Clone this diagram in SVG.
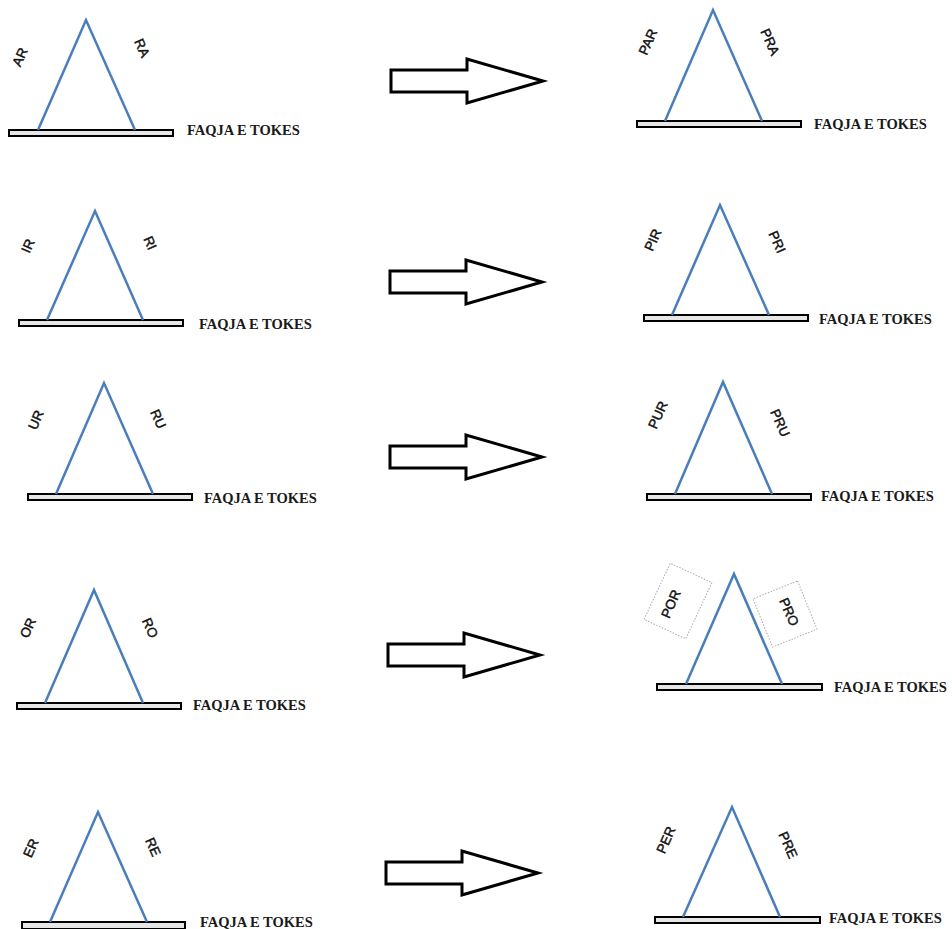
<svg xmlns="http://www.w3.org/2000/svg" width="952" height="929" viewBox="0 0 952 929">
<style>
.tri{fill:none;stroke:#4a7ebb;stroke-width:2.5;stroke-linejoin:miter}
.bar{fill:#e6e6e6;stroke:#000;stroke-width:2}
.lbl{font-family:"Liberation Sans",Arial,sans-serif;font-size:13.5px;fill:#111;stroke:#111;stroke-width:0.45;text-anchor:middle;dominant-baseline:central}
.fq{font-family:"Liberation Serif","Times New Roman",serif;font-weight:bold;font-size:14.5px;fill:#1a1a1a}
.arr{fill:#fff;stroke:#000;stroke-width:3;stroke-linejoin:miter}
.box{fill:none;stroke:#aaa;stroke-width:1;stroke-dasharray:1.5 1.5}
</style>
<defs>
<path id="arrow" d="M0,-11 H76 V-22 L152,0 L76,22 V11 H0 Z"/>
</defs>
<rect width="952" height="929" fill="#fff"/>

<g id="left-1">
<rect class="bar" x="9" y="130" width="164" height="6"/>
<polyline class="tri" points="38,130 86,20 135,130"/>
<text class="lbl" transform="translate(20,57) rotate(-66)">AR</text>
<text class="lbl" transform="translate(142,48) rotate(66)">RA</text>
<text class="fq" x="187" y="135">FAQJA E TOKES</text>
</g>
<g id="right-1">
<rect class="bar" x="637" y="121" width="164" height="6"/>
<polyline class="tri" points="665,121 713,10 762,121"/>
<text class="lbl" transform="translate(648,42) rotate(-66)">PAR</text>
<text class="lbl" transform="translate(770,42) rotate(66)">PRA</text>
<text class="fq" x="814" y="129">FAQJA E TOKES</text>
</g>

<g id="left-2">
<rect class="bar" x="19" y="320" width="164" height="6"/>
<polyline class="tri" points="47,320 95,211 143,320"/>
<text class="lbl" transform="translate(28,246) rotate(-66)">IR</text>
<text class="lbl" transform="translate(150,243) rotate(66)">RI</text>
<text class="fq" x="199" y="329">FAQJA E TOKES</text>
</g>
<g id="right-2">
<rect class="bar" x="644" y="315" width="164" height="6"/>
<polyline class="tri" points="672,315 720,205 769,315"/>
<text class="lbl" transform="translate(653,240) rotate(-66)">PIR</text>
<text class="lbl" transform="translate(777,242) rotate(66)">PRI</text>
<text class="fq" x="819" y="324">FAQJA E TOKES</text>
</g>

<g id="left-3">
<rect class="bar" x="28" y="494" width="164" height="6"/>
<polyline class="tri" points="56,494 104,383 153,494"/>
<text class="lbl" transform="translate(36,420) rotate(-66)">UR</text>
<text class="lbl" transform="translate(158,419) rotate(66)">RU</text>
<text class="fq" x="204" y="503">FAQJA E TOKES</text>
</g>
<g id="right-3">
<rect class="bar" x="647" y="494" width="164" height="6"/>
<polyline class="tri" points="675,494 723,382 772,494"/>
<text class="lbl" transform="translate(658,415) rotate(-66)">PUR</text>
<text class="lbl" transform="translate(780,423) rotate(66)">PRU</text>
<text class="fq" x="821" y="501">FAQJA E TOKES</text>
</g>

<g id="left-4">
<rect class="bar" x="17" y="703" width="164" height="6"/>
<polyline class="tri" points="45,703 94,590 143,703"/>
<text class="lbl" transform="translate(28,628) rotate(-66)">OR</text>
<text class="lbl" transform="translate(150,628) rotate(66)">RO</text>
<text class="fq" x="193" y="710">FAQJA E TOKES</text>
</g>
<g id="right-4">
<rect class="box" x="-31" y="-23" width="62" height="46" transform="translate(678,601) rotate(-65)"/>
<rect class="box" x="-26" y="-24" width="52" height="48" transform="translate(785,614) rotate(68)"/>
<rect class="bar" x="657" y="684" width="165" height="6"/>
<polyline class="tri" points="686,684 734,574 782,684"/>
<text class="lbl" transform="translate(671,604) rotate(-66)">POR</text>
<text class="lbl" transform="translate(789,612) rotate(66)">PRO</text>
<text class="fq" x="834" y="692">FAQJA E TOKES</text>
</g>

<g id="left-5">
<rect class="bar" x="22" y="922" width="163" height="7"/>
<polyline class="tri" points="50,922 98,812 147,922"/>
<text class="lbl" transform="translate(31,848) rotate(-66)">ER</text>
<text class="lbl" transform="translate(153,847) rotate(66)">RE</text>
<text class="fq" x="200" y="927">FAQJA E TOKES</text>
</g>
<g id="right-5">
<rect class="bar" x="655" y="917" width="165" height="6"/>
<polyline class="tri" points="683,917 732,807 780,917"/>
<text class="lbl" transform="translate(666,840) rotate(-66)">PER</text>
<text class="lbl" transform="translate(788,845) rotate(66)">PRE</text>
<text class="fq" x="829" y="923">FAQJA E TOKES</text>
</g>

<g id="connectors">
<use href="#arrow" class="arr" transform="translate(391,81)"/>
<use href="#arrow" class="arr" transform="translate(390,282)"/>
<use href="#arrow" class="arr" transform="translate(390,457)"/>
<use href="#arrow" class="arr" transform="translate(388,655)"/>
<use href="#arrow" class="arr" transform="translate(386,873)"/>
</g>
</svg>
